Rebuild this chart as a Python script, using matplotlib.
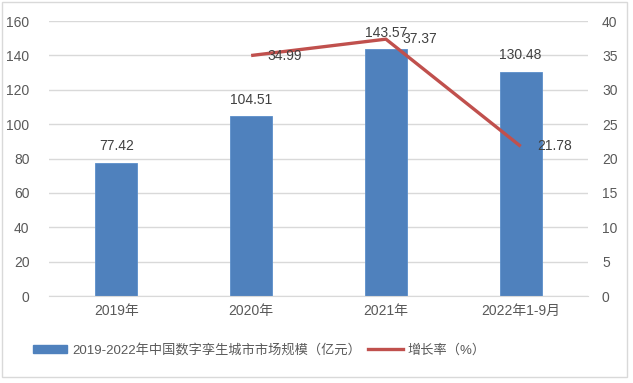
import matplotlib.pyplot as plt
from matplotlib.patches import Rectangle, Patch
from matplotlib.lines import Line2D

plt.rcParams['font.family'] = ['Liberation Sans', 'Noto Sans CJK SC', 'DejaVu Sans']

years = ['2019年', '2020年', '2021年', '2022年1-9月']
market = [77.42, 104.51, 143.57, 130.48]
growth_years = ['2020年', '2021年', '2022年1-9月']
growth = [34.99, 37.37, 21.78]

bar_color = '#4F81BD'
line_color = '#C0504D'
text_color = '#595959'

fig = plt.figure(figsize=(6.33, 3.83), dpi=100)
ax = fig.add_axes([0.0774, 0.227, 0.8516, 0.718])
ax2 = ax.twinx()

x = list(range(len(years)))
bars = ax.bar(x, market, width=0.31, color=bar_color, edgecolor='#5B8FCB', linewidth=0.6, zorder=2)
for b, v in zip(bars, market):
    ax.annotate(f'{v:.2f}', (b.get_x() + b.get_width() / 2, v), xytext=(0, 7),
                textcoords='offset points', ha='center', va='bottom', fontsize=10, color='#404040')

gx = [years.index(y) for y in growth_years]
ax2.plot(gx, growth, color=line_color, linewidth=2.4, solid_capstyle='butt', zorder=3)
for xi, v in zip(gx, growth):
    ax2.annotate(f'{v:.2f}', (xi, v), xytext=(12, 0), textcoords='offset points',
                 ha='left', va='center', fontsize=10, color='#404040')

ax.set_xlim(-0.5, 3.5)
ax.set_ylim(0, 160)
ax.set_yticks(range(0, 161, 20))
ax2.set_ylim(0, 40)
ax2.set_yticks(range(0, 41, 5))
ax.set_xticks(x)
ax.set_xticklabels(years)

ax.grid(axis='y', color='#D9D9D9', linewidth=1, zorder=0)
ax.set_axisbelow(True)
for a in (ax, ax2):
    for s in a.spines.values():
        s.set_visible(False)
    a.tick_params(length=0, labelsize=10, colors=text_color)
ax.spines['bottom'].set_visible(True)
ax.spines['bottom'].set_color('#D9D9D9')
ax.tick_params(axis='y', pad=14)
ax2.tick_params(axis='y', pad=10)
ax.tick_params(axis='x', pad=6)

handles = [Patch(facecolor=bar_color, edgecolor=bar_color),
           Line2D([0], [0], color=line_color, linewidth=2.4)]
labels = ['2019-2022年中国数字孪生城市市场规模（亿元）', '增长率（%）']
fig.legend(handles, labels, loc='center', bbox_to_anchor=(0.41, 0.086), ncol=2,
           frameon=False, fontsize=9.5, labelcolor=text_color, handlelength=2.6,
           handleheight=0.6, columnspacing=0.5, handletextpad=0.4)

fig.patches.append(Rectangle((2 / 633, 1 - 377 / 383), 625 / 633, 375 / 383,
                             transform=fig.transFigure, fill=False,
                             edgecolor='#D9D9D9', linewidth=1))

fig.savefig('out.png', dpi=100)
